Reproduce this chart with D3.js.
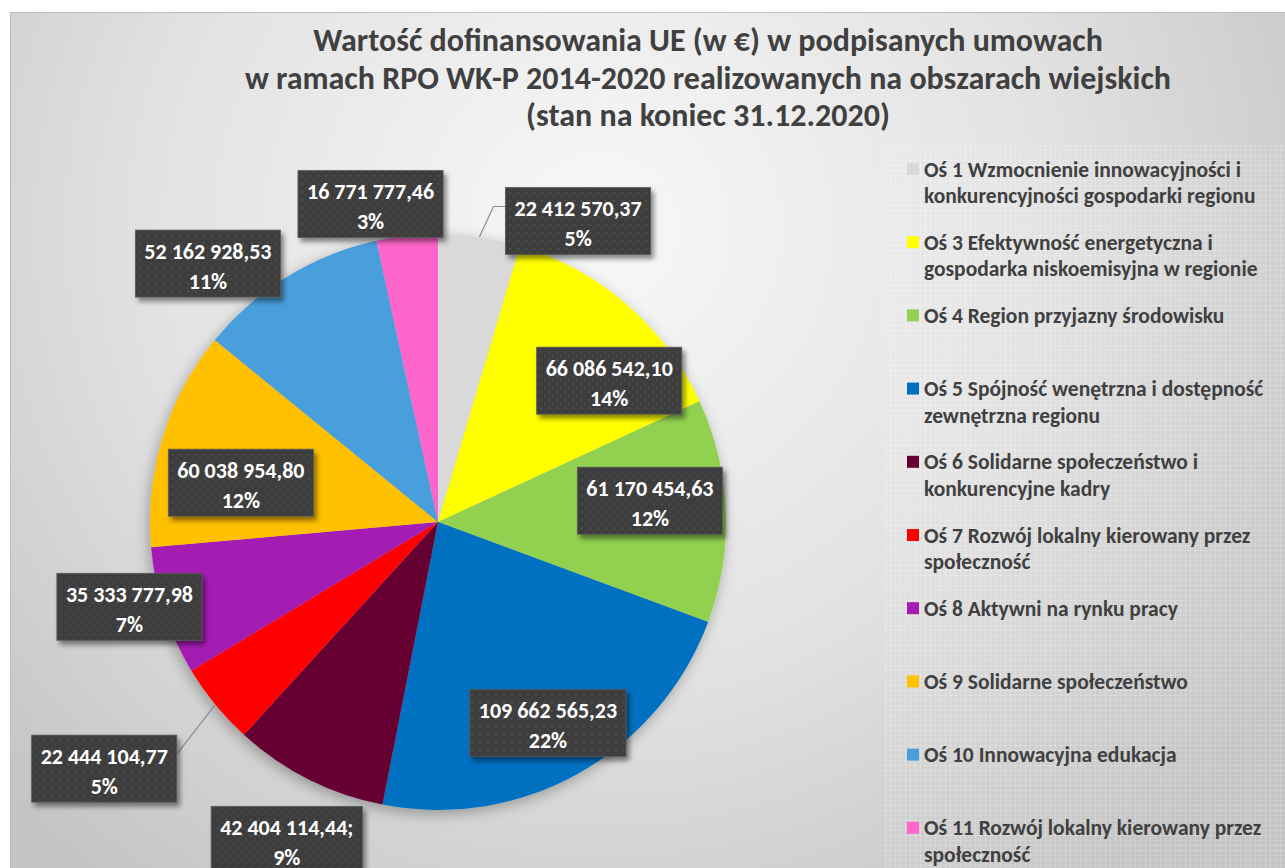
<!DOCTYPE html>
<html>
<head>
<meta charset="utf-8">
<script src="https://cdn.jsdelivr.net/npm/d3@7"></script>
<style>
  body { margin: 0; background: #fff; }
  svg { display: block; }
</style>
</head>
<body>
<svg width="1285" height="868"></svg>
<script>
// ---- data ----
const titleLines = [
  'Wartość dofinansowania UE (w €) w podpisanych umowach',
  'w ramach RPO WK-P 2014-2020 realizowanych na obszarach wiejskich',
  '(stan na koniec 31.12.2020)'
]
const categories = ['Oś 1', 'Oś 3', 'Oś 4', 'Oś 5', 'Oś 6', 'Oś 7', 'Oś 8', 'Oś 9', 'Oś 10', 'Oś 11']
const legendLines = [
  ['Oś 1 Wzmocnienie innowacyjności i', 'konkurencyjności gospodarki regionu'],
  ['Oś 3 Efektywność energetyczna i', 'gospodarka niskoemisyjna w regionie'],
  ['Oś 4 Region przyjazny środowisku'],
  ['Oś 5 Spójność wenętrzna i dostępność', 'zewnętrzna regionu'],
  ['Oś 6 Solidarne społeczeństwo i', 'konkurencyjne kadry'],
  ['Oś 7 Rozwój lokalny kierowany przez', 'społeczność'],
  ['Oś 8 Aktywni na rynku pracy'],
  ['Oś 9 Solidarne społeczeństwo'],
  ['Oś 10 Innowacyjna edukacja'],
  ['Oś 11 Rozwój lokalny kierowany przez', 'społeczność']
]
const values = [22412570.37, 66086542.10, 61170454.63, 109662565.23, 42404114.44,
                22444104.77, 35333777.98, 60038954.80, 52162928.53, 16771777.46]
const percentLabels = ['5%', '14%', '12%', '22%', '9%', '5%', '7%', '12%', '11%', '3%']
const valueSuffix = ['', '', '', '', ';', '', '', '', '', '']
const colors = ['#d9d9d9', '#ffff00', '#92d050', '#0070c0', '#660033',
                '#ff0000', '#a51db2', '#ffc000', '#4a9edc', '#ff66cc']

// ---- layout ----
const svg = d3.select('svg')
const width = +svg.attr('width')
const height = +svg.attr('height')
const cx = 438, cy = 522, radius = 288
const fontFamily = 'Carlito, Calibri, Lato, sans-serif'
// label placement (Excel "best fit"): distance from centre and angle nudge in degrees
const labelDist = [332, 222, 213, 229, 352, 415, 320, 201, 346, 325]
const labelTurn = [16.7, 9.6, -3.5, 0.6, -1.3, 2.9, 2.7, -5.8, -10.1, -5.8]
const withLeader = [0, 5]

const plFormat = d3.formatLocale({ decimal: ',', thousands: ' ', grouping: [3], currency: ['', ''] }).format(',.2f')

const defs = svg.append('defs')

const bg = defs.append('radialGradient')
  .attr('id', 'bg').attr('gradientUnits', 'userSpaceOnUse')
  .attr('cx', 600).attr('cy', 230).attr('r', 820)
bg.append('stop').attr('offset', 0).attr('stop-color', '#f8f8f8')
bg.append('stop').attr('offset', 0.55).attr('stop-color', '#e2e2e2')
bg.append('stop').attr('offset', 1).attr('stop-color', '#c4c4c4')

const grid = defs.append('pattern')
  .attr('id', 'grid').attr('patternUnits', 'userSpaceOnUse')
  .attr('width', 5).attr('height', 5)
grid.append('path').attr('d', 'M0 0.5H5M0.5 0V5')
  .attr('stroke', '#ffffff').attr('stroke-opacity', 0.18).attr('stroke-width', 1)

const dots = defs.append('pattern')
  .attr('id', 'dots').attr('patternUnits', 'userSpaceOnUse')
  .attr('width', 8).attr('height', 8)
dots.append('rect').attr('width', 8).attr('height', 8).attr('fill', '#3e3e3e')
dots.append('rect').attr('x', 3).attr('y', 3).attr('width', 1.5).attr('height', 1.5).attr('fill', '#575757')
dots.append('rect').attr('x', 7).attr('y', 7).attr('width', 1.5).attr('height', 1.5).attr('fill', '#505050')

const boxShadow = defs.append('filter').attr('id', 'boxShadow')
  .attr('x', '-20%').attr('y', '-20%').attr('width', '150%').attr('height', '160%')
boxShadow.append('feDropShadow').attr('dx', 3).attr('dy', 4).attr('stdDeviation', 2.5)
  .attr('flood-color', '#000').attr('flood-opacity', 0.45)

const pieShadow = defs.append('filter').attr('id', 'pieShadow')
  .attr('x', '-20%').attr('y', '-20%').attr('width', '140%').attr('height', '140%')
pieShadow.append('feDropShadow').attr('dx', -2).attr('dy', 4).attr('stdDeviation', 7)
  .attr('flood-color', '#000').attr('flood-opacity', 0.3)

// chart area
svg.append('rect')
  .attr('x', 10.5).attr('y', 12.5)
  .attr('width', width).attr('height', height)
  .attr('fill', 'url(#bg)').attr('stroke', '#bdbdbd')

svg.append('rect')
  .attr('x', 884).attr('y', 145)
  .attr('width', width - 884).attr('height', height - 145)
  .attr('fill', 'url(#grid)')

// title
svg.append('text')
  .attr('x', 708).attr('y', 51)
  .attr('text-anchor', 'middle')
  .attr('fill', '#404040')
  .style('font-family', fontFamily).style('font-weight', 700).style('font-size', '32px')
  .selectAll('tspan')
  .data(titleLines)
  .enter().append('tspan')
    .attr('x', 708)
    .attr('dy', (d, i) => i ? 37.5 : 0)
    .text(d => d)

// pie
const pie = d3.pie().sort(null).value(d => d)
const arcs = pie(values)
const arc = d3.arc().innerRadius(0).outerRadius(radius)

svg.append('g')
  .attr('transform', `translate(${cx},${cy})`)
  .attr('filter', 'url(#pieShadow)')
  .selectAll('path')
  .data(arcs)
  .enter().append('path')
    .attr('d', arc)
    .attr('fill', (d, i) => colors[i])

// data labels
const labelG = svg.append('g').attr('transform', `translate(${cx},${cy})`)
const polar = (ang, r) => [Math.sin(ang) * r, -Math.cos(ang) * r]

arcs.forEach((d, i) => {
  const mid = (d.startAngle + d.endAngle) / 2
  const [lx, ly] = polar(mid + labelTurn[i] * Math.PI / 180, labelDist[i])
  const g = labelG.append('g').attr('transform', `translate(${lx},${ly})`)

  const lines = [plFormat(values[i]) + valueSuffix[i], percentLabels[i]]
  const rect = g.append('rect').attr('fill', 'url(#dots)')
    .attr('stroke', '#5a5a5a').attr('stroke-width', 0.8)
    .attr('filter', 'url(#boxShadow)')
  const txt = g.append('text')
    .attr('text-anchor', 'middle')
    .attr('fill', '#ffffff')
    .style('font-family', fontFamily).style('font-weight', 700).style('font-size', '22px')
  txt.selectAll('tspan').data(lines).enter().append('tspan')
    .attr('x', 0).attr('y', (t, j) => j === 0 ? -5 : 25)
    .text(t => t)

  const w = txt.node().getBBox().width + 18
  const h = 67
  rect.attr('x', -w / 2).attr('y', -h / 2).attr('width', w).attr('height', h)

  if (withLeader.includes(i)) {
    const [ax, ay] = polar(mid, radius)
    const right = lx > ax
    const ex = right ? lx - w / 2 : lx + w / 2
    const ey = ly - h / 2 + 19
    const pts = right ? [[ax, ay], [ex - 12, ey], [ex, ey]] : [[ax, ay], [ex, ey]]
    labelG.insert('path', ':first-child')
      .attr('d', d3.line()(pts))
      .attr('fill', 'none').attr('stroke', '#8c8c8c').attr('stroke-width', 1.2)
  }
})

// legend
const legendStep = 73.2
const legend = svg.append('g')
  .attr('transform', 'translate(907,169)')
  .style('font-family', fontFamily).style('font-weight', 700).style('font-size', '21.5px')

const items = legend.selectAll('g')
  .data(categories)
  .enter().append('g')
    .attr('transform', (d, i) => `translate(0,${i * legendStep})`)

items.append('rect')
  .attr('x', 0).attr('y', -6)
  .attr('width', 12).attr('height', 12)
  .attr('fill', (d, i) => colors[i])

items.append('text')
  .attr('fill', '#404040')
  .selectAll('tspan')
  .data((d, i) => legendLines[i])
  .enter().append('tspan')
    .attr('x', 17)
    .attr('y', (t, j) => 7.5 + j * 26.5)
    .text(t => t)
</script>
</body>
</html>
